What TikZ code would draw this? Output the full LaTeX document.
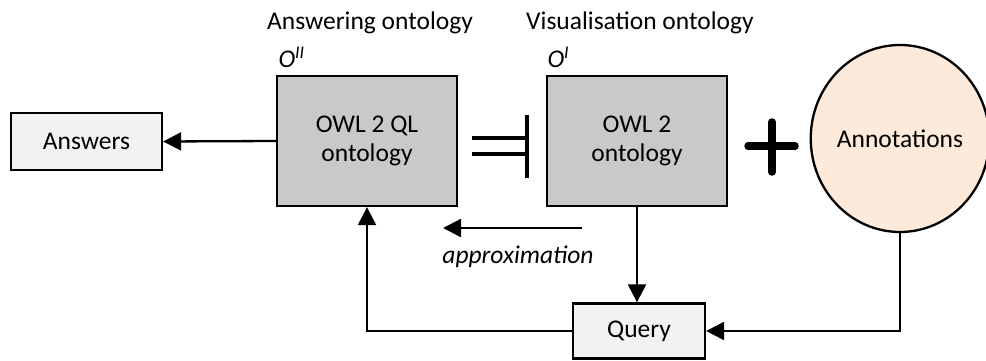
\documentclass[tikz,border=0pt]{standalone}
\usepackage{fontspec}
\setmainfont{Carlito}
\usetikzlibrary{arrows.meta,shapes.geometric}
\definecolor{ontofill}{HTML}{C9C9C9}
\definecolor{boxfill}{HTML}{F2F2F2}
\definecolor{annfill}{HTML}{FDEADA}
\begin{document}
\begin{tikzpicture}[x=1pt,y=-1pt,
  every node/.style={font=\fontsize{25.5}{29}\selectfont},
  base/.style={draw=black, line width=2.3pt, inner sep=0pt, align=center},
  onto/.style={base, fill=ontofill, minimum width=180pt, minimum height=130pt},
  plainbox/.style={base, fill=boxfill},
  link/.style={line width=2.3pt, -{Triangle[length=18pt,width=18pt]}},
  olabel/.style={anchor=base west, font=\fontsize{25.5}{29}\selectfont\itshape},
]
\useasboundingbox (0,0) rectangle (986,361);

% titles
\node (t1) at (370,23) {Answering ontology};
\node (t2) at (640,23) {Visualisation ontology};

% ontologies
\node[onto] (ql) at (367,141) {\raisebox{-3pt}{\parbox{170pt}{\centering OWL 2 QL\\ontology}}};
\node[onto] (owl) at (637,141) {\raisebox{-3pt}{\parbox{170pt}{\centering OWL 2\\ontology}}};
\node[olabel] (o2) at (275,68) {O\textsuperscript{II}};
\node[olabel] (o1) at (544,68) {O\textsuperscript{I}};

% other boxes
\node[plainbox, minimum width=151pt, minimum height=57pt] (ans) at (86.5,141.5) {Answers};
\node[plainbox, minimum width=132pt, minimum height=55pt] (query) at (639,331) {Query};
\node[base, ellipse, fill=annfill, minimum width=178pt, minimum height=187pt] (ann) at (900,138.5) {Annotations};

% entailment-like symbol between the ontologies
\draw[line width=4pt] (472,138) -- (527,138) (472,154) -- (527,154) (527,115) -- (527,178);
% plus sign
\draw[line width=7.5pt, line cap=round] (748,146) -- (795,146) (772,122) -- (772,172);

% connectors
\draw[link] (ql.west) -- (ans.east);
\draw[link] (owl.south) -- (owl.south |- query.north);
\draw[link] (query.west) -| (ql.south);
\draw[link] (ann.south) |- (query.east);

\coordinate (apS) at (582,228);
\coordinate (apE) at (443,228);
\draw[link] (apS) -- (apE);
\node[font=\fontsize{25.5}{29}\selectfont\itshape] (apx) at (518,257) {approximation};
\end{tikzpicture}
\end{document}
